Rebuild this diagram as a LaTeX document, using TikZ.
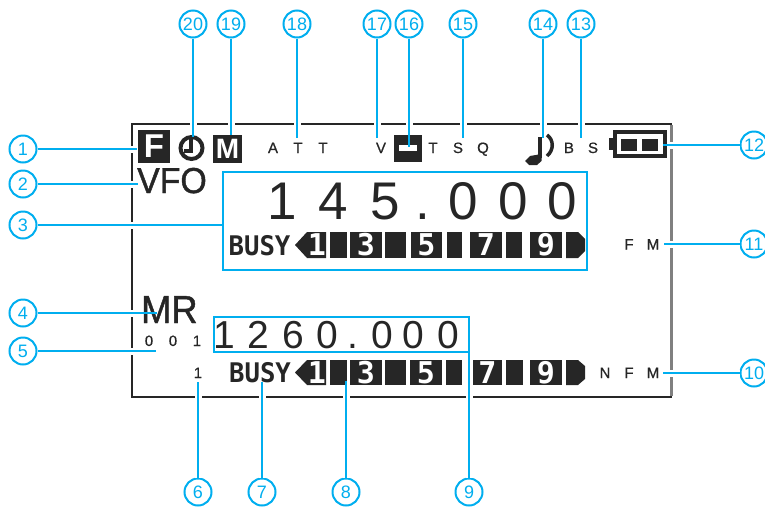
\documentclass[tikz,border=0pt]{standalone}
\usepackage{fontspec}
\setmainfont{Liberation Sans}
\setmonofont{DejaVu Sans Mono}
\newfontfamily\heavy[FakeBold=1.2]{Liberation Sans}
\newfontfamily\semi[FakeBold=0.6]{Liberation Sans}
\definecolor{cy}{HTML}{00AEEF}
\definecolor{lcd}{HTML}{262626}
\newcommand\pch[2]{\makebox[#1pt]{#2}}
\newcommand\fsz[1]{\fontsize{#1}{#1}\selectfont}
\tikzset{
  callout/.style={circle,draw=cy,fill=white,line width=2pt,minimum size=27pt,inner sep=0pt,text=cy,font=\fsz{18}},
  leader/.style={draw=cy,line width=2.2pt},
  halo/.style={draw=white,line width=7pt},
  hilite/.style={draw=cy,line width=2pt,inner sep=0pt},
  small/.style={text=lcd,inner sep=0pt,anchor=base,font=\semi\fsz{15}},
  big/.style={text=lcd,inner sep=0pt,anchor=base west},
  seg/.style={fill=lcd,inner sep=0pt,minimum height=#1,text=white,font=\ttfamily\bfseries\fsz{30}},
  busy/.style={text=lcd,inner sep=0pt,anchor=base,xscale=.95,font=\ttfamily\bfseries\fsz{27}},
  icon/.style={fill=lcd,inner sep=0pt,text=white,font=\bfseries\fsz{33}},
  lcdline/.style={draw=lcd,line width=#1},
}
\begin{document}
\begin{tikzpicture}[x=1pt,y=-1pt]
\useasboundingbox (0,0) rectangle (765,507);
% frame
\draw[lcdline=2.3pt] (672,124) -- (132,124) -- (132,397) -- (672,397);
\draw[draw=black!50,line width=3pt] (671,125) -- (671,396);
% callouts and their free ends
\foreach \n/\cx/\cy/\ex/\ey in {
  1/23/149/137/149, 2/23/184/138/184, 3/23/225/223/225, 4/23/313/157/313, 5/23/351/156/351,
  6/198/492/198/382, 7/262/492/262/382, 8/346/492/346/381, 9/469/492/469/335,
  10/754/373/663/373, 11/754/244/664/244, 12/754/145/663/145,
  13/581/24/581/138, 14/543/24/543/138, 15/463/24/463/138, 16/409/24/409/147, 17/377/24/377/138,
  18/297/24/297/138, 19/231/24/231/135, 20/193/24/193/137}{
  \node[callout] (c\n) at (\cx,\cy) {\n};
  \coordinate (e\n) at (\ex,\ey);
  \draw[halo] (c\n) -- (e\n);
}
% top status icons
\node[icon,minimum width=32pt,minimum height=33pt] (fkey) at (154,146.5) {F};
\draw[lcdline=4pt] (191.5,148) circle (11);
\draw[lcdline=3.5pt] (184,151) -- (191,151) -- (191,136);
\node[icon,minimum width=29pt,minimum height=28pt,font=\bfseries\fsz{28}] (mkey) at (227.5,149) {M};
\node[small] (att) at (298,153) {\pch{25}{A}\pch{25}{T}\pch{25}{T}};
\node[small] (v) at (381,153) {V};
\fill[lcd] (394,135) rectangle (422,162);
\fill[white] (399,145) rectangle (417,151);
\node[small] (tsq) at (458,153) {\pch{25}{T}\pch{25}{S}\pch{25}{Q}};
% note
\draw[lcdline=3.5pt] (540,137) -- (540,158);
\fill[lcd] (541.5,154) -- (541.5,161) -- (537,165) -- (529,165) -- (525,161) -- (530,156) -- cycle;
\draw[lcdline=3.5pt] (547,135) .. controls (554,140) and (554,150) .. (547,156);
\node[small] (bs) at (581,153) {\pch{24}{B}\pch{24}{S}};
% battery
\fill[lcd] (609,138) rectangle (614,150);
\draw[lcdline=3.5pt] (615,132) rectangle (665,156);
\fill[lcd] (621,139) rectangle (637,151);
\fill[lcd] (642,139) rectangle (658,151);
% left labels
\node[big,xscale=.94,font=\heavy\fsz{36}] (vfo) at (137,193) {VFO};
\node[big,xscale=.93,font=\heavy\fsz{39}] (mr) at (141,323) {MR};
\node[small] (mem) at (173,346) {\pch{24}{0}\pch{24}{0}\pch{24}{1}};
\node[small] (ch) at (198,378) {1};
% frequencies
\node[big,font=\fsz{53}] (f1) at (257,219) {\pch{50}{1}\pch{52}{4}\pch{52}{5}\pch{24}{.}\pch{56}{0}\pch{44}{0}\pch{54}{0}};
\node[big,font=\fsz{39}] (f2) at (207,348) {\pch{34}{1}\pch{34}{2}\pch{36}{6}\pch{32}{0}\pch{20}{.}\pch{38}{0}\pch{24}{0}\pch{46}{0}};
% bar graph, upper row
\node[busy] (busy1) at (259.5,255) {BUSY};
\fill[lcd] (295,245) -- (307,232) -- (326,232) -- (326,258) -- (307,258) -- cycle;
\node[text=white,inner sep=0pt,font=\ttfamily\bfseries\fsz{30}] (a1) at (317,245) {1};
\node[seg=26pt,minimum width=17pt] (a2) at (338.5,245) {};
\node[seg=26pt,minimum width=32pt] (a3) at (366,245) {3};
\node[seg=26pt,minimum width=21pt] (a4) at (395.5,245) {};
\node[seg=26pt,minimum width=31pt] (a5) at (426.5,245) {5};
\node[seg=26pt,minimum width=15pt] (a6) at (454.5,245) {};
\node[seg=26pt,minimum width=32pt] (a7) at (486,245) {7};
\node[seg=26pt,minimum width=16pt] (a8) at (514,245) {};
\node[seg=26pt,minimum width=32pt] (a9) at (546,245) {9};
\fill[lcd] (566,232) -- (578,232) -- (585,239) -- (585,251) -- (578,258) -- (566,258) -- cycle;
% bar graph, lower row
\node[busy] (busy2) at (260,382) {BUSY};
\fill[lcd] (295,372.5) -- (307,360) -- (326,360) -- (326,385) -- (307,385) -- cycle;
\node[text=white,inner sep=0pt,font=\ttfamily\bfseries\fsz{30}] (b1) at (317,372.5) {1};
\node[seg=25pt,minimum width=17pt] (b2) at (338.5,372.5) {};
\node[seg=25pt,minimum width=32pt] (b3) at (366,372.5) {3};
\node[seg=25pt,minimum width=21pt] (b4) at (395.5,372.5) {};
\node[seg=25pt,minimum width=32pt] (b5) at (426,372.5) {5};
\node[seg=25pt,minimum width=16pt] (b6) at (454,372.5) {};
\node[seg=25pt,minimum width=29pt] (b7) at (487.5,372.5) {7};
\node[seg=25pt,minimum width=17pt] (b8) at (514.5,372.5) {};
\node[seg=25pt,minimum width=32pt] (b9) at (546,372.5) {9};
\fill[lcd] (566,360) -- (578,360) -- (585,366) -- (585,379) -- (578,385) -- (566,385) -- cycle;
% right labels
\node[small] (fm) at (641,249.5) {\pch{24}{F}\pch{24}{M}};
\node[small] (nfm) at (629,378) {\pch{24}{N}\pch{24}{F}\pch{24}{M}};
% highlight boxes
\node[hilite,minimum width=364pt,minimum height=98pt] (box3) at (405,221) {};
\node[hilite,minimum width=255pt,minimum height=35pt] (box9) at (341.5,334.5) {};
% leaders
\foreach \n in {1,...,20}{\draw[leader] (c\n) -- (e\n);}
\end{tikzpicture}
\end{document}
